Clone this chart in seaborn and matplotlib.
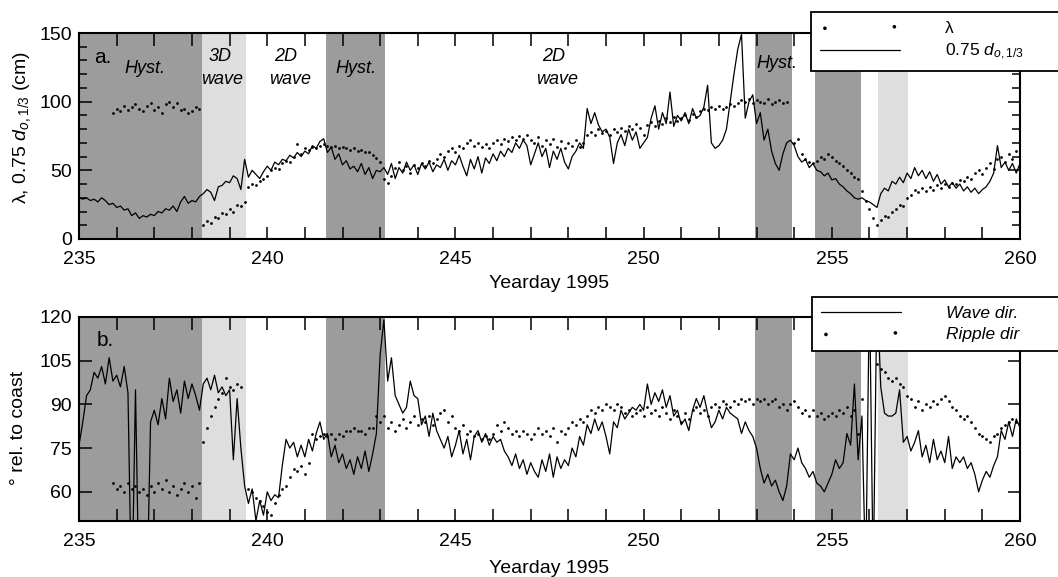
import numpy as np
import pandas as pd
import matplotlib
matplotlib.use("Agg")
import matplotlib.pyplot as plt
from matplotlib.ticker import MultipleLocator
import seaborn as sns

nan = np.nan

# sampling grid: yeardays 235.0 ... 260.0 every 0.1 day
days = np.round(np.arange(2350, 2601) / 10.0, 1)

# ---------------- panel a ----------------
# 0.75 d_o,1/3 (cm), solid line
d075 = [
    30, 29, 30, 28, 29, 27, 30, 28, 25, 26,
    23, 24, 21, 22, 17, 19, 15, 17, 16, 18,
    17, 20, 19, 22, 21, 24, 20, 27, 31, 26,
    28, 27, 31, 33, 36, 34, 28, 38, 39, 42,
    41, 46, 44, 36, 58, 45, 50, 47, 44, 49,
    53, 50, 56, 54, 58, 57, 61, 59, 63, 60,
    64, 62, 68, 66, 71, 73, 63, 67, 58, 62,
    54, 57, 51, 53, 49, 55, 47, 52, 44, 50,
    49, 52, 47, 55, 44, 52, 48, 56, 50, 54,
    47, 55, 51, 56, 49, 54, 52, 58, 50, 57,
    54, 61, 53, 46, 58, 51, 60, 48, 59, 55,
    62, 57, 64, 60, 66, 63, 70, 66, 72, 68,
    54, 62, 70, 60, 66, 52, 64, 58, 66, 56,
    51, 60, 64, 70, 66, 95, 84, 92, 83, 78,
    80, 74, 55, 70, 76, 68, 80, 72, 78, 66,
    70, 74, 88, 97, 80, 92, 84, 107, 82, 90,
    86, 92, 84, 95, 88, 90, 96, 112, 70, 66,
    68, 72, 80, 100, 120, 138, 149, 88, 100, 105,
    84, 92, 72, 80, 64, 55, 50, 62, 70, 72,
    68, 60, 56, 58, 52, 55, 50, 49, 46, 48,
    43, 44, 40, 38, 35, 33, 30, 29, 30, 28,
    27, 25, 23, 33, 37, 35, 42, 40, 45, 41,
    48, 44, 52, 46, 50, 44, 49, 42, 47, 40,
    43, 38, 41, 37, 40, 35, 38, 34, 37, 33,
    36, 38, 42, 48, 68, 52, 56, 50, 55, 48,
    55,
]

# lambda (cm), dots
lam = [
    nan, nan, nan, nan, nan, nan, nan, nan, nan, 92,
    95, 93, 97, 94, 96, 98, 95, 93, 97, 99,
    94, 96, 92, 98, 100, 96, 99, 94, 95, 92,
    93, 96, 95, 10, 13, 12, 16, 15, 19, 18,
    22, 20, 25, 24, 27, 38, 40, 39, 42, 44,
    46, 50, 52, 51, 55, 57, 56, 60, 69, 62,
    66, 65, 67, 66, 68, 69, 68, 67, 68, 66,
    67, 66, 65, 66, 64, 65, 63, 63, 61, 59,
    56, 44, 41, 46, 52, 56, 50, 53, 48, 54,
    52, 55, 53, 57, 55, 58, 62, 60, 64, 66,
    63, 68, 66, 70, 72, 68, 70, 67, 69, 66,
    70, 72, 69, 73, 71, 74, 72, 75, 73, 76,
    72, 70, 74, 68, 72, 69, 73, 67, 71, 66,
    70, 68, 72, 67, 70, 76, 78, 76, 80, 77,
    79, 76, 80, 78, 81, 79, 82, 80, 84, 81,
    76, 83, 85, 82, 86, 84, 88, 85, 89, 86,
    88, 90, 87, 91, 89, 93, 95, 94, 96, 95,
    97, 95, 96, 98, 97, 99, 101, 100, 102, 99,
    101, 100, 99, 102, 98, 100, 101, 99, 100, nan,
    70, 73, 62, 58, 56, 55, 57, 60, 58, 62,
    60, 57, 55, 53, 50, 48, 45, 44, 35, 28,
    22, 15, 10, 14, 17, 16, 20, 22, 25, 24,
    30, 32, 36, 34, 37, 35, 38, 36, 39, 37,
    40, 38, 41, 40, 43, 42, 45, 44, 48, 50,
    47, 52, 55, 51, 58, 60, 56, 62, 58, 64,
    60,
]

# ---------------- panel b ----------------
# wave direction (deg rel. to coast), solid line
wave_dir = [
    76, 84, 93, 95, 101, 99, 103, 97, 106, 98,
    100, 96, 103, 94, 20, 95, 20, 20, 20, 84,
    88, 83, 92, 85, 99, 91, 95, 87, 98, 92,
    97, 93, 88, 97, 99, 95, 100, 94, 96, 93,
    95, 71, 92, 75, 62, 56, 61, 50, 57, 52,
    60, 57, 59, 58, 69, 78, 75, 77, 72, 76,
    72, 78, 74, 80, 84, 78, 80, 72, 76, 70,
    73, 68, 71, 66, 72, 68, 74, 67, 73, 80,
    107, 119, 98, 106, 93, 90, 87, 89, 98, 93,
    92, 83, 86, 79, 87, 81, 78, 75, 79, 72,
    76, 81, 73, 78, 71, 79, 81, 77, 80, 76,
    79, 77, 78, 74, 72, 69, 73, 68, 71, 66,
    70, 67, 65, 71, 67, 73, 65, 72, 68, 71,
    69, 75, 72, 79, 76, 83, 80, 85, 81, 84,
    79, 73, 84, 82, 88, 85, 87, 89, 88, 90,
    88, 97, 90, 94, 91, 95, 89, 93, 86, 88,
    83, 85, 81, 88, 92, 89, 93, 87, 82, 84,
    88, 85, 89, 87, 86, 85, 80, 84, 81, 79,
    75, 68, 63, 66, 62, 64, 60, 57, 62, 73,
    71, 75, 70, 68, 65, 67, 63, 62, 60, 63,
    66, 71, 68, 70, 80, 76, 97, 71, 86, 30,
    130, 30, 130, 96, 87, 86, 86, 87, 95, 77,
    79, 74, 77, 81, 72, 76, 70, 78, 71, 74,
    70, 79, 68, 72, 70, 72, 68, 70, 66, 60,
    64, 67, 65, 69, 72, 81, 78, 84, 79, 85,
    82,
]

# ripple direction (deg rel. to coast), dots
ripple_dir = [
    nan, nan, nan, nan, nan, nan, nan, nan, nan, 63,
    61, 62, 60, 63, 61, 62, 60, 61, 59, 62,
    60, 63, 61, 64, 60, 62, 59, 61, 63, 60,
    62, 58, 63, 77, 82, 86, 89, 92, 94, 99,
    96, 95, 97, 96, nan, 61, 60, 58, 57, 55,
    53, 52, 56, 59, 61, 62, 65, 68, 67, 69,
    66, 70, 80, 78, 79, 80, 79, 80, 78, 80,
    79, 81, 81, 82, 81, 81, 80, 82, 82, 86,
    84, 86, 82, 84, 81, 83, 85, 82, 84, 86,
    83, 85, 84, 86, 83, 85, 87, 88, 84, 86,
    82, 81, 83, 80, 81, 79, 80, 78, 79, 78,
    80, 83, 81, 84, 82, 80, 81, 79, 81, 80,
    78, 80, 82, 80, 81, 79, 82, 77, 81, 80,
    82, 84, 83, 85, 84, 86, 88, 87, 89, 88,
    90, 89, 88, 90, 89, 87, 88, 86, 87, 88,
    86, 89, 87, 88, 86, 89, 87, 85, 88, 86,
    84, 87, 85, 88, 89, 87, 88, 86, 89, 90,
    89, 91, 90, 89, 91, 90, 92, 91, 92, 90,
    92, 91, 92, 90, 91, 92, 89, 90, 88, 90,
    91, 89, 87, 88, 86, 88, 86, 87, 85, 86,
    87, 86, 88, 87, 89, 86, 88, 80, 92, nan,
    nan, nan, 104, 102, 101, 99, 98, 99, 97, 96,
    93, 92, 89, 91, 88, 90, 89, 91, 90, 92,
    93, 91, 89, 88, 86, 85, 86, 84, 82, 80,
    79, 78, 77, 79, 80, 82, 83, 84, 85, 84,
    86,
]

# regime periods (yearday start, end)
hyst_periods = [(235.0, 238.28), (241.56, 243.12), (252.95, 253.93), (254.55, 255.77)]
wave3d_periods = [(238.28, 239.43), (256.23, 257.02)]

# panel a annotations: (text, yearday, value)
labels_a = [("Hyst.", 236.75, 124), ("3D", 238.75, 133), ("wave", 238.8, 116),
            ("2D", 240.5, 133), ("wave", 240.6, 116), ("Hyst.", 242.35, 124),
            ("2D", 247.6, 133), ("wave", 247.7, 116), ("Hyst.", 253.55, 128)]

xticks = [235, 240, 245, 250, 255, 260]
yticks_a = [0, 50, 100, 150]
yticks_b = [60, 75, 90, 105, 120]

for arr in (d075, lam, wave_dir, ripple_dir):
    assert len(arr) == len(days), len(arr)

dfa = pd.DataFrame({"day": days, "d075": d075, "lam": lam})
dfb = pd.DataFrame({"day": days, "wave": wave_dir, "ripple": ripple_dir})

sns.set_theme(style="ticks")
plt.rcParams["font.family"] = ["Liberation Sans", "DejaVu Sans"]
plt.rcParams["mathtext.fontset"] = "custom"
plt.rcParams["mathtext.rm"] = "Liberation Sans"
plt.rcParams["mathtext.it"] = "Liberation Sans:italic"
plt.rcParams["mathtext.bf"] = "Liberation Sans:bold"
plt.rcParams["axes.unicode_minus"] = False
plt.rcParams["text.color"] = "black"
plt.rcParams["axes.labelcolor"] = "black"
plt.rcParams["xtick.color"] = "black"
plt.rcParams["ytick.color"] = "black"

DARK = "#9c9c9c"
LIGHT = "#dedede"

fig = plt.figure(figsize=(10.58, 5.77), dpi=100)
axa = fig.add_axes([0.0747, 0.5858, 0.8894, 0.3570])
axb = fig.add_axes([0.0747, 0.0971, 0.8894, 0.3536])

for ax in (axa, axb):
    for s, e in hyst_periods:
        ax.axvspan(s, e, color=DARK, lw=0, zorder=0)
    for s, e in wave3d_periods:
        ax.axvspan(s, e, color=LIGHT, lw=0, zorder=0)

# panel a
sns.scatterplot(data=dfa.dropna(subset=["lam"]), x="day", y="lam", ax=axa,
                color="black", s=4, linewidth=0, label="λ", zorder=3)
sns.lineplot(data=dfa, x="day", y="d075", ax=axa, color="black", lw=0.9,
             estimator=None, sort=False, label="0.75 $d_{o,1/3}$", zorder=2)

# panel b
sns.lineplot(data=dfb, x="day", y="wave", ax=axb, color="black", lw=0.9,
             estimator=None, sort=False, label="Wave dir.", zorder=2)
sns.scatterplot(data=dfb.dropna(subset=["ripple"]), x="day", y="ripple", ax=axb,
                color="black", s=4, linewidth=0, label="Ripple dir", zorder=3)

axa.set_xlim(235, 260)
axa.set_ylim(0, 150)
axb.set_xlim(235, 260)
axb.set_ylim(50, 120)
axa.set_yticks(yticks_a)
axb.set_yticks(yticks_b)
axa.yaxis.set_minor_locator(MultipleLocator(10))

for ax in (axa, axb):
    ax.set_xticks(xticks)
    ax.xaxis.set_minor_locator(MultipleLocator(1))
    ax.tick_params(which="both", direction="in", top=True, right=True,
                   width=1.1, length=9, labelsize=14, colors="black")
    ax.tick_params(axis="x", pad=9)
    ax.tick_params(axis="y", pad=5)
    for sp in ax.spines.values():
        sp.set_linewidth(1.5)
        sp.set_color("black")
    ax.set_xlabel("Yearday 1995", fontsize=14, color="black")
axa.tick_params(axis="y", which="minor", length=6)

axa.xaxis.set_label_coords(0.5, -0.175)
axb.xaxis.set_label_coords(0.5, -0.19)

axa.set_ylabel("λ, 0.75 $d_{o,1/3}$ (cm)", fontsize=14, color="black")
axb.set_ylabel("° rel. to coast", fontsize=14, color="black")
axa.yaxis.set_label_coords(-0.049, 0.54)
axb.yaxis.set_label_coords(-0.055, 0.456)

axa.text(235.4, 132, "a.", fontsize=15, ha="left", va="center", color="black")
axb.text(235.48, 112, "b.", fontsize=15, ha="left", va="center", color="black")
for t, x, y in labels_a:
    axa.text(x, y, t, fontsize=13, style="italic", ha="center", va="center",
             color="black")

leg_kw = dict(loc="upper left", mode="expand", frameon=True, fancybox=False,
              framealpha=1, edgecolor="black", handlelength=4.6,
              handletextpad=2.6, borderpad=0.5, labelspacing=0.35,
              scatterpoints=2, markerscale=1.3, borderaxespad=0,
              labelcolor="black")
la = axa.legend(bbox_to_anchor=(0.7779, 0.777, 0.27, 0.325), fontsize=12.5, **leg_kw)
lb = axb.legend(bbox_to_anchor=(0.7790, 0.80, 0.27, 0.298),
                prop={"style": "italic", "size": 12.5}, **leg_kw)
for lg in (la, lb):
    lg.get_frame().set_linewidth(1.3)
    lg.set_zorder(10)

fig.savefig("out.png", dpi=100)
